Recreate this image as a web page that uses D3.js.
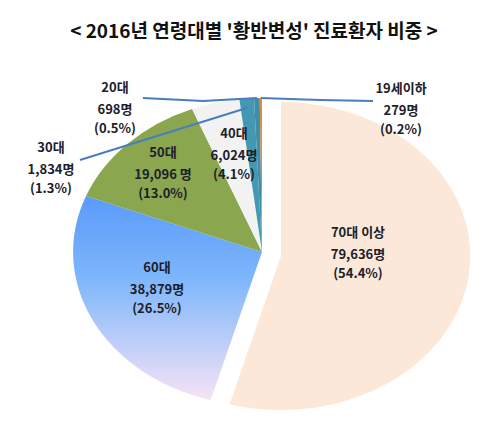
<!DOCTYPE html>
<html>
<head>
<meta charset="utf-8">
<script src="https://d3js.org/d3.v7.min.js"></script>
<style>
  body { margin: 0; background: #fff; }
  text { font-family: "Noto Sans CJK KR", "Noto Sans", sans-serif; }
</style>
</head>
<body>
<div id="chart"></div>
<script>
// Data
const ageGroups = ['70대 이상', '60대', '50대', '40대', '30대', '20대', '19세이하'];
const patients = [79636, 38879, 19096, 6024, 1834, 698, 279];
const shares = ['54.4%', '26.5%', '13.0%', '4.1%', '1.3%', '0.5%', '0.2%'];
const countLabels = ['79,636명', '38,879명', '19,096 명', '6,024명', '1,834명', '698명', '279명'];

// Layout
const width = 500, height = 428;
const cx = 262, cy = 252, rx = 189, ry = 154;
const explode = [19, 4];
const colors = ['#fce8d8', 'url(#grad60)', '#8aa64e', '#f2f2f2', '#4399b2', '#3d8fa9', '#e2873d'];

// label centers (x, first-line y), line gap
const labelPos = {
  '70대 이상': [358, 237],
  '60대': [157, 272],
  '50대': [163, 157],
  '40대': [234, 138],
  '30대': [51, 152],
  '20대': [115, 92],
  '19세이하': [401, 93]
};
const lineGap = [22, 19];

const svg = d3.select('#chart').append('svg')
  .attr('width', width)
  .attr('height', height);

const defs = svg.append('defs');
const grad = defs.append('linearGradient')
  .attr('id', 'grad60')
  .attr('x1', 0).attr('y1', 0).attr('x2', 0).attr('y2', 1);
grad.append('stop').attr('offset', '0%').attr('stop-color', '#5a9afa');
grad.append('stop').attr('offset', '40%').attr('stop-color', '#7db6fb');
grad.append('stop').attr('offset', '100%').attr('stop-color', '#f7e3f6');

// Title
svg.append('text')
  .attr('x', 254)
  .attr('y', 38)
  .attr('text-anchor', 'middle')
  .style('font-size', '19px')
  .style('font-weight', 'bold')
  .style('fill', '#111')
  .text("< 2016년 연령대별 '황반변성' 진료환자 비중 >");

// Pie
const pie = d3.pie().sort(null).value(d => d);
const arcs = pie(patients);
const arc = d3.arc().innerRadius(0).outerRadius(1);

const pieG = svg.append('g');
pieG.selectAll('path')
  .data(arcs)
  .join('path')
    .attr('transform', (d, i) => {
      const dx = i === 0 ? explode[0] : 0;
      const dy = i === 0 ? explode[1] : 0;
      return `translate(${cx + dx},${cy + dy}) scale(${rx},${ry})`;
    })
    .attr('d', arc)
    .attr('fill', (d, i) => colors[i]);

// point on the ellipse edge at a given angle
function edge(angle, k) {
  return [cx + rx * k * Math.sin(angle), cy - ry * k * Math.cos(angle)];
}
const mid = d => (d.startAngle + d.endAngle) / 2;

// Leader lines for the small slices
const leaders = [
  { i: 4, from: [80, 160], k: 0.94 },
  { i: 5, from: [143, 98], bend: [203, 101], k: 1.0 },
  { i: 6, from: [373, 101], bend: [320, 100], k: 1.0 }
];
svg.selectAll('polyline.leader')
  .data(leaders)
  .join('polyline')
    .attr('class', 'leader')
    .attr('points', d => {
      const end = edge(mid(arcs[d.i]), d.k);
      const pts = d.bend ? [d.from, d.bend, end] : [d.from, end];
      return pts.map(p => p.join(',')).join(' ');
    })
    .attr('fill', 'none')
    .attr('stroke', '#4a7ebb')
    .attr('stroke-width', 2);

// Labels
const labels = svg.selectAll('text.lbl')
  .data(ageGroups)
  .join('text')
    .attr('class', 'lbl')
    .attr('text-anchor', 'middle')
    .style('font-size', '13px')
    .style('font-weight', 'bold')
    .style('fill', '#1b202b');

labels.each(function(name, i) {
  const [x, y] = labelPos[name];
  const t = d3.select(this);
  t.append('tspan').attr('x', x).attr('y', y).text(name);
  t.append('tspan').attr('x', x).attr('y', y + lineGap[0]).text(countLabels[i]);
  t.append('tspan').attr('x', x).attr('y', y + lineGap[0] + lineGap[1]).text(`(${shares[i]})`);
});
</script>
</body>
</html>
